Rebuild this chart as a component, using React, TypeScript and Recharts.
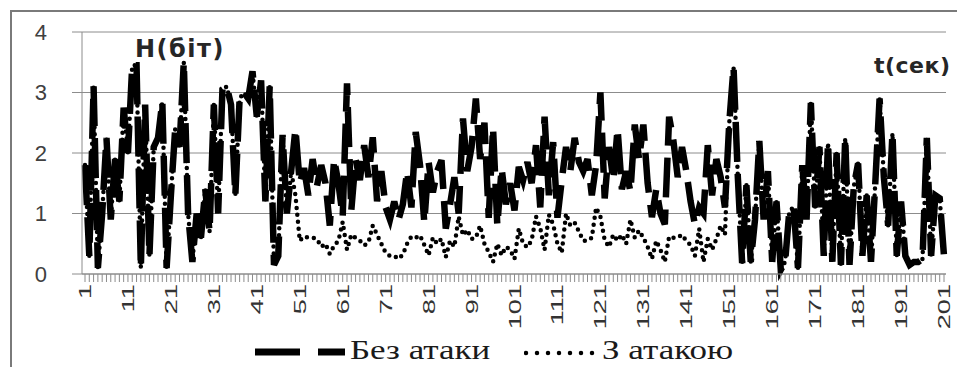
import { CartesianGrid, Legend, Line, LineChart, XAxis, YAxis } from "recharts";

// seconds 1..201
const seconds = Array.from({ length: 201 }, (_, i) => i + 1);
const tickLabels = [1, 11, 21, 31, 41, 51, 61, 71, 81, 91, 101, 111, 121, 131, 141, 151, 161, 171, 181, 191, 201];
const yTicks = [0, 1, 2, 3, 4];

// Без атаки
const noAttack = [
  1.8, 0.3, 3.1, 0.1, 1.0, 2.25, 0.9, 1.9, 1.2, 2.75,
  2.0, 3.45, 3.45, 0.1, 2.8, 0.3, 2.1, 2.25, 2.85, 0.1,
  1.3, 2.4, 2.1, 3.5, 1.0, 0.2, 1.0, 0.6, 1.4, 0.7,
  2.8, 1.0, 3.05, 3.1, 2.8, 1.3, 2.9, 3.0, 2.9, 3.35,
  2.6, 3.2, 1.2, 3.1, 0.15, 0.3, 2.3, 1.0, 1.7, 2.4,
  1.5, 1.75, 1.3, 1.9, 1.45, 1.8, 1.5, 0.8, 1.9, 1.5,
  0.95, 3.15, 1.05, 1.9, 1.55, 2.13, 1.6, 2.26, 1.2, 1.7,
  1.1, 0.9, 1.2, 0.9, 1.15, 1.7, 1.1, 2.35, 1.8, 0.85,
  1.85, 1.35, 1.7, 1.88, 0.75, 1.15, 1.6, 1.0, 2.57, 1.7,
  2.1, 2.9, 1.9, 2.5, 0.93, 2.42, 0.8, 1.75, 1.15, 1.5,
  1.05, 1.77, 1.55, 1.85, 1.5, 2.13, 1.1, 2.6, 1.3, 2.18,
  0.93, 1.55, 2.1, 1.7, 2.25, 1.85, 1.7, 1.9, 1.3, 1.8,
  3.0, 1.25, 2.1, 1.55, 2.4, 1.4, 1.7, 1.36, 2.47, 1.9,
  2.47, 1.5, 0.94, 1.4, 1.0, 0.82, 2.6, 2.2, 1.6, 2.1,
  1.7, 1.2, 0.82, 1.1, 1.0, 2.13, 1.3, 1.9, 1.6, 1.1,
  2.5, 3.42, 1.6, 0.18, 1.47, 0.2, 0.9, 2.2, 0.9, 1.7,
  0.2, 1.2, 0.07, 0.2, 1.05, 1.1, 0.1, 1.8, 0.9, 2.83,
  1.1, 2.1, 0.3, 2.17, 0.2, 2.0, 0.15, 2.25, 0.15, 1.45,
  1.83, 0.3, 1.3, 0.2, 1.5, 2.9, 1.6, 0.8, 2.33, 0.3,
  1.2, 0.3, 0.15, 0.2, 0.2, 0.25, 2.25, 0.3, 1.3, 1.25,
  0.3,
];

// З атакою
const withAttack = [
  1.8, 0.3, 3.1, 0.1, 1.0, 2.25, 0.9, 1.9, 1.2, 2.75,
  2.0, 3.45, 3.45, 0.1, 2.8, 0.3, 2.1, 2.25, 2.85, 0.1,
  1.3, 2.4, 2.1, 3.5, 1.0, 0.2, 1.0, 0.6, 1.4, 0.7,
  2.8, 1.0, 3.05, 3.1, 2.8, 1.3, 2.9, 3.0, 2.9, 3.35,
  2.6, 3.2, 1.2, 3.1, 0.15, 0.3, 2.3, 1.0, 1.7, 1.3,
  0.55, 0.62, 0.6, 0.6, 0.58, 0.45, 0.5, 0.33, 0.47, 0.55,
  0.86, 0.4, 0.65, 0.6, 0.55, 0.47, 0.52, 0.8, 0.65, 0.5,
  0.35, 0.3, 0.3, 0.25, 0.32, 0.5, 0.62, 0.6, 0.64, 0.48,
  0.31, 0.6, 0.5, 0.58, 0.28, 0.55, 0.45, 0.95, 0.64, 0.73,
  0.58, 0.6, 0.8, 0.5, 0.36, 0.2, 0.5, 0.31, 0.45, 0.4,
  0.25, 0.75, 0.5, 0.44, 0.56, 0.95, 0.76, 0.4, 0.98, 0.82,
  0.5, 0.35, 1.0, 0.8, 0.85, 0.7, 0.55, 0.55, 0.6, 1.1,
  0.95, 0.56, 0.45, 0.65, 0.55, 0.65, 0.5, 0.9, 0.6, 0.72,
  0.6, 0.45, 0.25, 0.55, 0.4, 0.2, 0.62, 0.6, 0.6, 0.65,
  0.55, 0.48, 0.3, 0.75, 0.2, 0.58, 0.4, 0.58, 0.8, 0.65,
  2.5, 3.42, 1.6, 0.18, 1.47, 0.2, 0.9, 2.2, 0.9, 1.7,
  0.2, 1.2, 0.07, 0.2, 1.05, 1.1, 0.1, 1.8, 0.9, 2.83,
  1.1, 2.1, 0.3, 2.17, 0.2, 2.0, 0.15, 2.25, 0.15, 1.45,
  1.83, 0.3, 1.3, 0.2, 1.5, 2.9, 1.6, 0.8, 2.33, 0.3,
  1.2, 0.3, 0.15, 0.2, 0.2, 0.25, 2.25, 0.3, 1.3, 1.25,
  0.3,
];

const data = seconds.map((t, i) => ({ t, a: noAttack[i], b: withAttack[i] }));

const XTick = (props: any) => {
  const { x, y, payload } = props;
  if (!tickLabels.includes(payload.value)) return <g />;
  return (
    <text
      transform={`translate(${x + 6},${y}) rotate(-90) scale(1.6,1)`}
      textAnchor="end"
      fontSize={17}
      fontFamily="Liberation Sans"
      fill="#333"
    >
      {payload.value}
    </text>
  );
};

const LegendBox = () => (
  <div style={{ position: "relative", width: 945, height: 31, fontFamily: "Liberation Sans Narrow", fontSize: 28, color: "#1a1a1a" }}>
    <svg width={92} height={31} style={{ position: "absolute", left: 243, top: 0 }}>
      <line x1={0} y1={16} x2={90} y2={16} stroke="#000" strokeWidth={7} strokeDasharray="45 18" />
    </svg>
    <span style={{ position: "absolute", left: 338, top: -2, display: "inline-block", transform: "scaleX(1.25)", transformOrigin: "left center" }}>Без атаки</span>
    <svg width={76} height={31} style={{ position: "absolute", left: 512, top: 0 }}>
      <line x1={2} y1={17} x2={74} y2={17} stroke="#000" strokeWidth={4.5} strokeDasharray="0 11" strokeLinecap="round" />
    </svg>
    <span style={{ position: "absolute", left: 590, top: -2, display: "inline-block", transform: "scaleX(1.25)", transformOrigin: "left center" }}>З атакою</span>
  </div>
);

export default function App() {
  return (
    <div
      style={{
        position: "fixed",
        left: 10,
        top: 10,
        width: 947,
        height: 357,
        boxSizing: "border-box",
        borderLeft: "2px solid #7a7a7a",
        borderTop: "2px solid #7a7a7a",
        background: "#fff",
      }}
    >
      <LineChart width={945} height={355} data={data} margin={{ top: 20, right: 11, left: 0, bottom: 0 }}>
        <CartesianGrid vertical={false} stroke="#8c8c8c" />
        <XAxis
          dataKey="t"
          interval={0}
          tick={<XTick />}
          tickSize={8}
          tickLine={{ stroke: "#8c8c8c" }}
          axisLine={{ stroke: "#8c8c8c" }}
          height={62}
          padding={{ left: 3, right: 2 }}
        />
        <YAxis
          domain={[0, 4]}
          ticks={yTicks}
          width={70}
          tickSize={10}
          tickMargin={25}
          tickLine={{ stroke: "#8c8c8c" }}
          axisLine={{ stroke: "#8c8c8c" }}
          tick={{ fontSize: 22, fill: "#404040", fontFamily: "Liberation Sans" }}
        />
        <Line
          type="linear"
          dataKey="a"
          name="Без атаки"
          stroke="#000"
          strokeWidth={6.5}
          strokeDasharray="40 12"
          dot={false}
          isAnimationActive={false}
        />
        <Line
          type="linear"
          dataKey="b"
          name="З атакою"
          stroke="#000"
          strokeWidth={4.5}
          strokeDasharray="0 7"
          strokeLinecap="round"
          dot={false}
          isAnimationActive={false}
        />
        <Legend verticalAlign="bottom" height={31} wrapperStyle={{ left: 0, width: 945, bottom: 0 }} content={<LegendBox />} />
      </LineChart>
      <div style={{ position: "absolute", left: 123, top: 23, fontFamily: "DejaVu Sans", fontWeight: "bold", fontSize: 24, letterSpacing: 1.5, color: "#262626" }}>
        H(біт)
      </div>
      <div style={{ position: "absolute", left: 862, top: 41, fontFamily: "DejaVu Sans", fontWeight: "bold", fontSize: 22, letterSpacing: 0.5, color: "#262626" }}>
        t(сек)
      </div>
    </div>
  );
}
